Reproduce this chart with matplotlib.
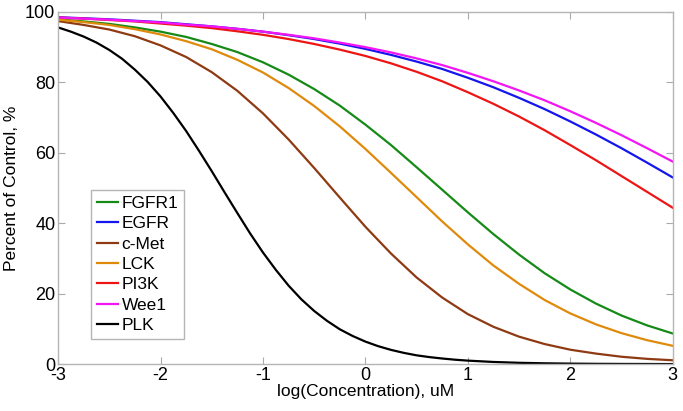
import matplotlib
matplotlib.use('Agg')
import matplotlib.pyplot as plt

plt.rcParams['font.family'] = ['Liberation Sans', 'DejaVu Sans']
plt.rcParams['axes.unicode_minus'] = False  # the original uses a plain hyphen

# log(concentration) sampled every 0.25 from -3 to 3
log_conc = [-3.0, -2.75, -2.5, -2.25, -2.0, -1.75, -1.5, -1.25, -1.0, -0.75, -0.5, -0.25,
            0.0, 0.25, 0.5, 0.75, 1.0, 1.25, 1.5, 1.75, 2.0, 2.25, 2.5, 2.75, 3.0]

fgfr1 = [97.9, 97.3, 96.6, 95.6, 94.4, 92.9, 90.9, 88.6, 85.7, 82.2, 78.1, 73.4,
         68.0, 62.2, 55.9, 49.5, 43.1, 36.9, 31.1, 25.8, 21.2, 17.2, 13.8, 11.0, 8.7]
egfr = [98.5, 98.2, 97.9, 97.5, 97.1, 96.5, 95.9, 95.2, 94.4, 93.4, 92.3, 91.0,
        89.5, 87.8, 85.9, 83.8, 81.3, 78.6, 75.6, 72.4, 68.9, 65.2, 61.3, 57.2, 53.0]
cmet = [97.4, 96.3, 95.0, 93.1, 90.5, 87.2, 82.9, 77.6, 71.2, 63.8, 55.7, 47.3,
        39.0, 31.4, 24.6, 18.9, 14.2, 10.6, 7.8, 5.7, 4.1, 3.0, 2.1, 1.5, 1.1]
lck = [97.8, 97.1, 96.3, 95.1, 93.6, 91.7, 89.4, 86.4, 82.8, 78.4, 73.3, 67.5,
       61.1, 54.3, 47.4, 40.5, 34.0, 28.0, 22.8, 18.2, 14.4, 11.3, 8.8, 6.8, 5.2]
pi3k = [98.4, 98.1, 97.7, 97.3, 96.7, 96.1, 95.4, 94.5, 93.5, 92.3, 90.9, 89.3,
        87.5, 85.4, 83.0, 80.3, 77.2, 73.9, 70.3, 66.4, 62.2, 57.9, 53.4, 48.9, 44.4]
wee1 = [98.4, 98.1, 97.8, 97.4, 97.0, 96.4, 95.9, 95.2, 94.4, 93.5, 92.5, 91.3,
        90.0, 88.5, 86.8, 84.9, 82.7, 80.3, 77.7, 74.9, 71.8, 68.5, 65.0, 61.3, 57.5]

log_conc_plk = [-3.0, -2.875, -2.75, -2.625, -2.5, -2.375, -2.25, -2.125, -2.0, -1.875,
                -1.75, -1.625, -1.5, -1.375, -1.25, -1.125, -1.0, -0.875, -0.75, -0.625,
                -0.5, -0.375, -0.25, -0.125, 0.0, 0.125, 0.25, 0.375, 0.5, 0.625,
                0.75, 0.875, 1.0, 1.25, 1.5, 1.75, 2.0, 2.25, 2.5, 2.75, 3.0]
plk = [95.6, 94.4, 93.0, 91.3, 89.2, 86.7, 83.6, 80.1, 76.0, 71.3,
       66.2, 60.6, 54.8, 48.8, 42.9, 37.1, 31.7, 26.8, 22.3, 18.4,
       15.1, 12.3, 9.9, 8.0, 6.4, 5.1, 4.05, 3.2, 2.5, 2.0,
       1.6, 1.26, 1.0, 0.62, 0.38, 0.24, 0.15, 0.09, 0.06, 0.04, 0.02]

series = [
    ('FGFR1', log_conc, fgfr1, '#168a16'),
    ('EGFR', log_conc, egfr, '#1515ee'),
    ('c-Met', log_conc, cmet, '#8e3a12'),
    ('LCK', log_conc, lck, '#e08a0c'),
    ('PI3K', log_conc, pi3k, '#ee1515'),
    ('Wee1', log_conc, wee1, '#f415f4'),
    ('PLK', log_conc_plk, plk, '#000000'),
]

fig = plt.figure(figsize=(6.83, 4.11), dpi=100)
ax = fig.add_axes([0.085, 0.114, 0.9, 0.857])

for nombre, xs, valores, color in series:
    ax.plot(xs, valores, color=color, lw=1.6, label=nombre)

ax.set_xlim(-3, 3)
ax.set_ylim(0, 100)
ax.set_xticks([-3, -2, -1, 0, 1, 2, 3])
ax.set_yticks([0, 20, 40, 60, 80, 100])
ax.tick_params(direction='in', top=True, right=True, length=5, color='#aaaaaa',
               labelsize=13, pad=2)
for sp in ax.spines.values():
    sp.set_color('#b5b5b5')
    sp.set_linewidth(1.0)

ax.set_xlabel('log(Concentration), uM', fontsize=12.5, labelpad=0)
ax.set_ylabel('Percent of Control, %', fontsize=12.5, labelpad=4)

leg = ax.legend(loc='lower left', bbox_to_anchor=(0.054, 0.071), fontsize=12.5,
                handlelength=1.2, handletextpad=0.2, labelspacing=0.3,
                borderpad=0.35, borderaxespad=0, fancybox=False, framealpha=1)
leg.get_frame().set_edgecolor('#b5b5b5')
leg.get_frame().set_linewidth(1.0)

plt.savefig('out.png', dpi=100)
plt.close()
